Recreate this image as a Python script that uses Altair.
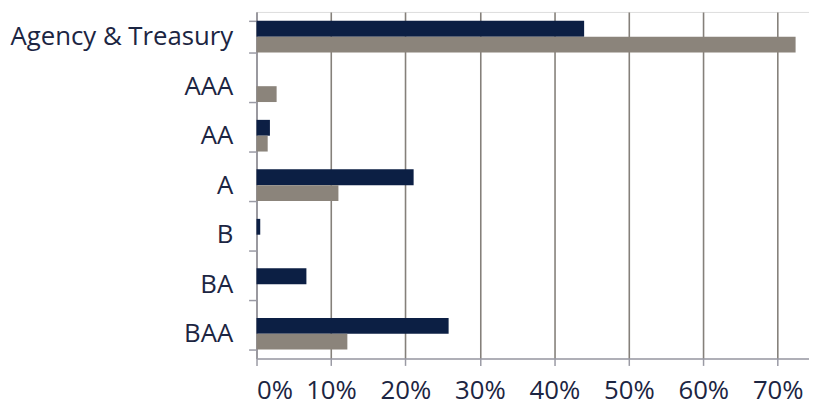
import altair as alt
import pandas as pd

categories = ["Agency & Treasury", "AAA", "AA", "A", "B", "BA", "BAA"]
series_names = ["Series 1", "Series 2"]
series1 = [0.440, 0.0, 0.018, 0.211, 0.005, 0.067, 0.258]
series2 = [0.724, 0.027, 0.015, 0.110, 0.0, 0.0, 0.122]
colors = ["#0c1f44", "#8b847b"]
tick_values = [0, 0.1, 0.2, 0.3, 0.4, 0.5, 0.6, 0.7]

rows = []
for c, a, b in zip(categories, series1, series2):
    rows.append({"category": c, "series": series_names[0], "value": a})
    rows.append({"category": c, "series": series_names[1], "value": b})
df = pd.DataFrame(rows)

FONT = "Open Sans"
LABEL = "#1c2542"
GRID = "#85807a"

chart = (
    alt.Chart(df)
    .mark_bar()
    .encode(
        y=alt.Y(
            "category:N",
            sort=categories,
            title=None,
            scale=alt.Scale(paddingInner=0.36, paddingOuter=0.18),
            axis=alt.Axis(
                tickBand="extent",
                ticks=True,
                tickSize=8,
                tickColor="#9a9aa4",
                tickWidth=1.5,
                domainColor="#9a9aa4",
                domainWidth=1.5,
                labelPadding=16,
                labelFontSize=26,
                labelFont=FONT,
                labelColor=LABEL,
                labelLimit=0,
                grid=False,
            ),
        ),
        yOffset=alt.YOffset("series:N", sort=series_names),
        x=alt.X(
            "value:Q",
            title=None,
            scale=alt.Scale(domain=[0, 0.742], nice=False, zero=True),
            axis=alt.Axis(
                format=".0%",
                values=tick_values,
                grid=True,
                gridColor=GRID,
                gridWidth=1.6,
                tickSize=7,
                tickColor="#9a9aa4",
                tickWidth=1.5,
                domainColor="#9a9aa4",
                domainWidth=1.5,
                labelPadding=12,
                labelFontSize=26,
                labelFont=FONT,
                labelColor=LABEL,
            ),
        ),
        color=alt.Color(
            "series:N",
            sort=series_names,
            scale=alt.Scale(domain=series_names, range=colors),
            legend=None,
        ),
    )
    .properties(
        width=558,
        height=350,
        autosize=alt.AutoSizeParams(type="none"),
        padding={"left": 251, "top": 2, "right": 0, "bottom": 43},
    )
    .configure_view(stroke=GRID, strokeWidth=1.5)
    .configure(background="white")
)

chart.save("out.html", embed_options={"renderer": "svg", "actions": False})
